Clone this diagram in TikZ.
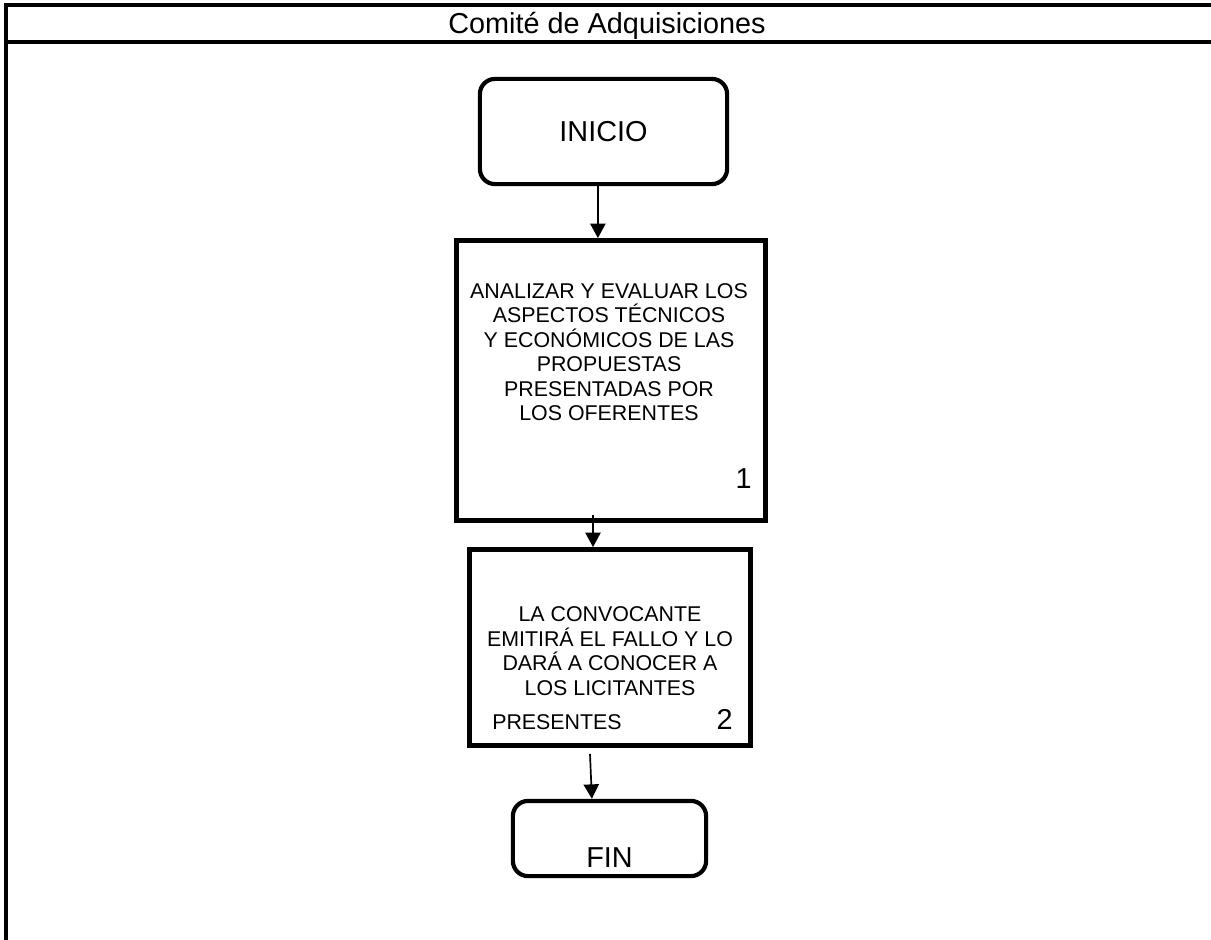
\documentclass[tikz,border=0pt]{standalone}
\usepackage{fontspec}
\setmainfont{Liberation Sans}
\usetikzlibrary{arrows.meta, positioning, calc}
\newcommand{\txtgrande}{\fontsize{20.5}{24}\selectfont}
\newcommand{\txtcaja}{\fontsize{15.2}{17.4}\selectfont}

\begin{document}
\begin{tikzpicture}[x=0.025cm, y=-0.025cm,
    marco/.style={line width=2.4pt},
    terminal/.style={rectangle, rounded corners=0.38cm, draw, line width=3pt, inner sep=0pt},
    proceso/.style={rectangle, draw, line width=3.4pt, inner sep=0pt},
    texto/.style={align=center, inner sep=0pt, font=\txtcaja},
    numero/.style={anchor=base east, inner sep=0pt, font=\txtgrande},
    flecha/.style={-{Triangle[length=3.6mm, width=3.8mm]}, line width=1.2pt}]

    \useasboundingbox (0,0) rectangle (1211,940);

    % marco del carril
    \draw[marco] (6,940) -- (6,5) -- (1211,5);
    \draw[marco] (6,42) -- (1211,42);
    \node[anchor=base, inner sep=0pt, font=\txtgrande] (carril) at (607,33) {Comité de Adquisiciones};

    % etapas
    \node[terminal, minimum width=6.18cm, minimum height=2.63cm, font=\txtgrande] (inicio) at (603.5,131.5) {INICIO};

    \node[proceso, minimum width=7.73cm, minimum height=7cm] (analizar) at (611,380.5) {};
    \node[texto] (analizartxt) at (609,352) {ANALIZAR Y EVALUAR LOS\\ASPECTOS TÉCNICOS\\Y ECONÓMICOS DE LAS\\PROPUESTAS\\PRESENTADAS POR\\LOS OFERENTES};
    \node[numero] (num1) at (752,488) {1};

    \node[proceso, minimum width=7.03cm, minimum height=4.9cm] (convoca) at (610,647.5) {};
    \node[texto] (convocatxt) at (610,651) {LA CONVOCANTE\\EMITIRÁ EL FALLO Y LO\\DARÁ A CONOCER A\\LOS LICITANTES};
    \node[anchor=base west, inner sep=0pt, font=\txtcaja] (presentes) at (492,729) {PRESENTES};
    \node[numero] (num2) at (733,729) {2};

    \node[terminal, minimum width=4.83cm, minimum height=1.88cm] (fin) at (609.5,838.5) {};
    \node[anchor=base, inner sep=0pt, font=\txtgrande] (fintxt) at (609.5,867) {FIN};

    % flechas
    \draw[flecha] ([xshift=-0.14cm]inicio.south) -- ([xshift=-0.14cm]inicio.south |- analizar.north);
    \draw[flecha] ([xshift=-0.45cm, yshift=0.2cm]analizar.south) -- ([xshift=-0.45cm]analizar.south |- convoca.north);
    \draw[flecha] ([xshift=-0.5cm, yshift=-0.15cm]convoca.south) -- ([xshift=-0.44cm]fin.north);
\end{tikzpicture}
\end{document}
